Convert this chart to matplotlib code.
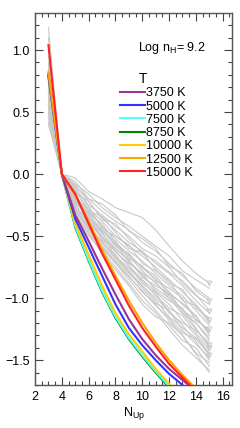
import matplotlib
matplotlib.use("Agg")
import matplotlib.pyplot as plt
from matplotlib.lines import Line2D
import numpy as np

plt.rcParams['font.family'] = ['Liberation Sans', 'DejaVu Sans']
plt.rcParams['mathtext.fontset'] = 'custom'
plt.rcParams['mathtext.rm'] = 'Liberation Sans'
plt.rcParams['mathtext.it'] = 'Liberation Sans'

# ---- data ----
x_gray = [3, 4, 5, 6, 7, 8, 9, 10, 11, 12, 13, 14, 15]
gray_lines = [
    [1.18, 0, -0.03, -0.14, -0.20, -0.27, -0.31, -0.35, -0.45, -0.58, -0.70, -0.80, -0.88],
    [1.10, 0, -0.08, -0.16, -0.27, -0.35, -0.42, -0.50, -0.58, -0.66, -0.78, -0.85, -0.92],
    [1.02, 0, -0.06, -0.20, -0.24, -0.33, -0.46, -0.52, -0.60, -0.74, -0.80, -0.94, -1.02],
    [0.95, 0, -0.10, -0.20, -0.30, -0.38, -0.45, -0.55, -0.62, -0.72, -0.82, -0.92, -1.00],
    [0.90, 0, -0.12, -0.25, -0.33, -0.42, -0.50, -0.60, -0.66, -0.75, -0.88, -0.98, -1.05],
    [0.88, 0, -0.09, -0.22, -0.36, -0.40, -0.52, -0.64, -0.70, -0.79, -0.86, -0.97, -1.10],
    [0.85, 0, -0.15, -0.22, -0.36, -0.45, -0.55, -0.62, -0.72, -0.80, -0.90, -1.02, -1.12],
    [0.82, 0, -0.13, -0.30, -0.34, -0.47, -0.60, -0.63, -0.77, -0.88, -0.93, -1.08, -1.16],
    [0.80, 0, -0.14, -0.28, -0.38, -0.50, -0.58, -0.66, -0.75, -0.85, -0.95, -1.05, -1.18],
    [0.78, 0, -0.18, -0.30, -0.42, -0.52, -0.62, -0.70, -0.80, -0.90, -0.98, -1.10, -1.22],
    [0.76, 0, -0.11, -0.26, -0.44, -0.50, -0.57, -0.72, -0.78, -0.86, -1.02, -1.06, -1.20],
    [0.75, 0, -0.20, -0.32, -0.40, -0.55, -0.65, -0.75, -0.82, -0.95, -1.05, -1.15, -1.28],
    [0.73, 0, -0.16, -0.36, -0.46, -0.54, -0.68, -0.74, -0.86, -0.92, -1.00, -1.18, -1.25],
    [0.72, 0, -0.22, -0.35, -0.45, -0.58, -0.66, -0.78, -0.88, -0.98, -1.10, -1.20, -1.32],
    [0.70, 0, -0.17, -0.33, -0.48, -0.60, -0.70, -0.82, -0.92, -1.00, -1.12, -1.25, -1.38],
    [0.68, 0, -0.25, -0.38, -0.50, -0.62, -0.74, -0.85, -0.95, -1.05, -1.18, -1.30, -1.45],
    [0.66, 0, -0.20, -0.28, -0.43, -0.57, -0.64, -0.76, -0.84, -0.97, -1.04, -1.14, -1.30],
    [0.65, 0, -0.28, -0.42, -0.55, -0.65, -0.78, -0.90, -1.00, -1.10, -1.22, -1.35, -1.50],
    [0.63, 0, -0.19, -0.39, -0.47, -0.63, -0.72, -0.80, -0.94, -1.02, -1.08, -1.24, -1.40],
    [0.62, 0, -0.30, -0.45, -0.58, -0.70, -0.82, -0.95, -1.05, -1.18, -1.30, -1.45, -1.60],
    [0.60, 0, -0.23, -0.34, -0.52, -0.60, -0.69, -0.83, -0.90, -0.96, -1.10, -1.17, -1.26],
    [0.58, 0, -0.26, -0.40, -0.50, -0.66, -0.76, -0.86, -0.98, -1.08, -1.14, -1.28, -1.42],
    [0.56, 0, -0.21, -0.37, -0.53, -0.62, -0.74, -0.88, -0.96, -1.12, -1.20, -1.26, -1.36],
    [0.55, 0, -0.32, -0.47, -0.60, -0.72, -0.85, -0.98, -1.10, -1.22, -1.34, -1.40, -1.55],
    [0.53, 0, -0.24, -0.41, -0.56, -0.68, -0.80, -0.90, -1.02, -1.15, -1.24, -1.32, -1.46],
    [0.50, 0, -0.27, -0.44, -0.54, -0.67, -0.79, -0.92, -1.04, -1.10, -1.26, -1.37, -1.48],
    [0.48, 0, -0.22, -0.31, -0.46, -0.56, -0.71, -0.80, -0.87, -1.00, -1.12, -1.20, -1.34],
    [0.45, 0, -0.35, -0.50, -0.62, -0.75, -0.88, -1.02, -1.12, -1.25, -1.38, -1.48, -1.58],
    [0.42, 0, -0.29, -0.43, -0.59, -0.71, -0.83, -0.94, -1.06, -1.16, -1.28, -1.33, -1.44],
    [0.40, 0, -0.33, -0.48, -0.64, -0.77, -0.90, -1.05, -1.15, -1.20, -1.30, -1.44, -1.52],
]
limit_end = [True, False, True, False, False, True, False, False, True, False,
             False, False, True, False, True, False, False, False, True, False,
             False, False, False, False, True, False, False, False, False, False]

x_temp = [3, 4, 5, 6, 7, 8, 9, 10, 11, 12, 13, 14]
temps = ['3750 K', '5000 K', '7500 K', '8750 K', '10000 K', '12500 K', '15000 K']
colors = ['#993399', '#3333ff', '#55ffff', '#008800', '#ffcc00', '#ffa500', '#ff2222']
y_3750 = [0.80, 0, -0.33, -0.54, -0.76, -0.97, -1.17, -1.33, -1.46, -1.57, -1.66, -1.75]
y_5000 = [0.80, 0, -0.36, -0.59, -0.82, -1.05, -1.24, -1.38, -1.50, -1.61, -1.70, -1.79]
y_7500 = [0.79, 0, -0.42, -0.69, -0.94, -1.15, -1.32, -1.46, -1.59, -1.71, -1.82, -1.92]
y_8750 = [0.78, 0, -0.43, -0.70, -0.95, -1.16, -1.33, -1.47, -1.60, -1.72, -1.83, -1.93]
y_10000 = [0.82, 0, -0.40, -0.65, -0.90, -1.12, -1.29, -1.43, -1.57, -1.69, -1.80, -1.90]
y_12500 = [0.82, 0, -0.17, -0.38, -0.61, -0.82, -1.02, -1.20, -1.36, -1.50, -1.62, -1.73]
y_15000 = [1.04, 0, -0.16, -0.40, -0.64, -0.85, -1.06, -1.24, -1.39, -1.53, -1.64, -1.75]
series = [y_3750, y_5000, y_7500, y_8750, y_10000, y_12500, y_15000]

# ---- figure ----
fig = plt.figure(figsize=(2.4, 4.28), dpi=100)
ax = fig.add_axes([0.146, 0.1005, 0.821, 0.8695])

for yy, lim in zip(gray_lines, limit_end):
    ax.plot(x_gray, yy, color='#c8c8c8', lw=0.8, zorder=1)
    if lim:
        ax.plot(x_gray[-1:], yy[-1:], marker='v', ms=3.5, mfc='none',
                mec='#c8c8c8', mew=0.7, ls='none', zorder=1)

draw_order = [3, 2, 4, 1, 0, 5, 6]
for i in draw_order:
    ax.plot(x_temp, series[i], color=colors[i], lw=1.5, zorder=3)

ax.set_xlim(2, 16.7)
ax.set_ylim(-1.7, 1.3)
ax.set_xticks([2, 4, 6, 8, 10, 12, 14, 16])
ax.set_xticks(np.arange(2, 16.7, 0.5), minor=True)
ax.set_yticks([-1.5, -1.0, -0.5, 0.0, 0.5, 1.0])
ax.set_yticks(np.arange(-1.7, 1.3, 0.1), minor=True)
ax.set_yticklabels(['\u22121.5', '\u22121.0', '\u22120.5', '0.0', '0.5', '1.0'])
ax.tick_params(which='both', direction='in', top=True, right=True,
               labelsize=9, color='#444444', width=0.8)
ax.tick_params(which='major', length=6, pad=4)
ax.tick_params(which='minor', length=3)
for s in ax.spines.values():
    s.set_color('#555555')
    s.set_linewidth(1.0)

ax.set_xlabel('N$_{\\mathrm{Up}}$', fontsize=9, labelpad=2)

ax.text(0.52, 0.905, 'Log n$_{\\mathrm{H}}$= 9.2', transform=ax.transAxes,
        fontsize=9, ha='left', va='center')
ax.text(0.548, 0.823, 'T', transform=ax.transAxes, fontsize=10,
        ha='center', va='center')

handles = [Line2D([], [], color=c, lw=1.5) for c in colors]
leg = ax.legend(handles, temps, loc='upper left', bbox_to_anchor=(0.43, 0.80),
                frameon=False, fontsize=9, handlelength=2.0, handletextpad=0.1,
                labelspacing=0.1, borderpad=0, borderaxespad=0)

fig.savefig('out.png', dpi=100)
